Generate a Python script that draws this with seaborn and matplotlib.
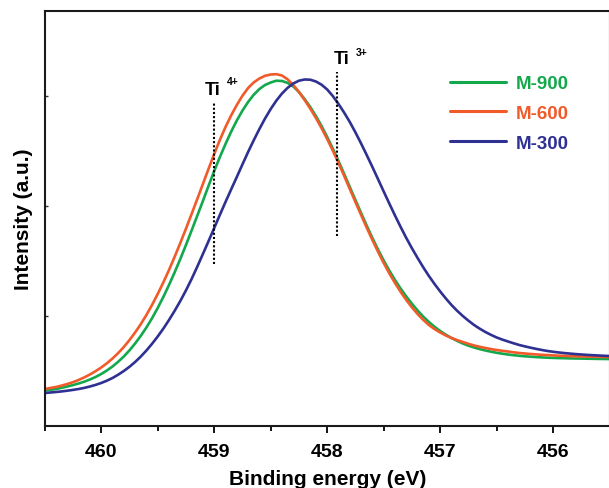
import matplotlib
matplotlib.use("Agg")
import matplotlib.pyplot as plt
import seaborn as sns
import pandas as pd
from matplotlib.ticker import MultipleLocator, NullFormatter

energy = [460.5, 460.45, 460.4, 460.35, 460.3, 460.25, 460.2, 460.15, 460.1, 460.05,
          460.0, 459.95, 459.9, 459.85, 459.8, 459.75, 459.7, 459.65, 459.6, 459.55,
          459.5, 459.45, 459.4, 459.35, 459.3, 459.25, 459.2, 459.15, 459.1, 459.05,
          459.0, 458.95, 458.9, 458.85, 458.8, 458.75, 458.7, 458.65, 458.6, 458.55,
          458.5, 458.45, 458.4, 458.35, 458.3, 458.25, 458.2, 458.15, 458.1, 458.05,
          458.0, 457.95, 457.9, 457.85, 457.8, 457.75, 457.7, 457.65, 457.6, 457.55,
          457.5, 457.45, 457.4, 457.35, 457.3, 457.25, 457.2, 457.15, 457.1, 457.05,
          457.0, 456.95, 456.9, 456.85, 456.8, 456.75, 456.7, 456.65, 456.6, 456.55,
          456.5, 456.45, 456.4, 456.35, 456.3, 456.25, 456.2, 456.15, 456.1, 456.05,
          456.0, 455.95, 455.9, 455.85, 455.8, 455.75, 455.7, 455.65, 455.6, 455.55,
          455.5]

m900 = [35.5, 36.2, 37, 38.2, 39.5, 40.9, 42.5, 44.3, 46.5, 49.0,
        52, 55.5, 59.5, 64.2, 69.5, 75.6, 82.5, 90.1, 98.5, 107.8,
        118, 129.1, 141, 153.7, 167, 181.0, 195.5, 210.2, 225, 240.2,
        255, 268.9, 282, 294.3, 305.5, 315.4, 324, 331.3, 337, 341.0,
        343.5, 345.3, 345, 343.1, 339.5, 334.0, 327, 319.0, 310, 299.9,
        289, 277.3, 265, 252.1, 239, 225.9, 213, 200.3, 188, 176.4,
        165.5, 155.4, 146, 137.4, 129.5, 122.2, 115.5, 109.4, 104, 99.2,
        95, 91.3, 88, 85.1, 82.5, 80.3, 78.5, 76.9, 75.5, 74.3,
        73.2, 72.3, 71.5, 70.8, 70.2, 69.7, 69.3, 68.9, 68.6, 68.3,
        68.1, 67.9, 67.8, 67.6, 67.5, 67.4, 67.3, 67.2, 67.1, 67.0,
        67]

m600 = [37, 38, 39, 40.4, 42, 43.8, 46, 48.6, 51.5, 54.8,
        58.5, 62.7, 67.5, 72.9, 79, 85.9, 93.5, 101.8, 111, 121.1,
        132, 143.6, 156, 169.2, 183, 197.3, 212, 226.9, 242, 257.2,
        272, 286, 299, 310.6, 321, 330.3, 338, 343.6, 347.5, 350.2,
        351.5, 351.8, 350.5, 346.6, 341, 334, 326, 317.4, 308, 297.9,
        287, 275.3, 263, 250.1, 237, 223.9, 211, 198.3, 186, 174.2,
        163, 152.6, 143, 134.1, 126, 118.6, 112, 106.1, 101, 96.9,
        93.5, 90.5, 88, 85.9, 84, 82.2, 80.5, 79.2, 78, 76.9,
        76, 75.2, 74.5, 73.7, 73, 72.5, 72, 71.6, 71.2, 70.9,
        70.6, 70.3, 70.1, 69.9, 69.7, 69.5, 69.4, 69.3, 69.2, 69.1,
        69]

m300 = [33, 33.5, 34, 34.6, 35.3, 36.1, 37, 38.1, 39.5, 41.1,
        43, 45.3, 48, 51.3, 55, 59.2, 64, 69.4, 75.5, 82.2,
        89.5, 97.4, 106, 115.2, 125, 135.6, 147, 159.3, 172, 184.9,
        198, 211.1, 224, 236.6, 249, 261.6, 274, 285.8, 297, 307.5,
        317, 325.4, 332.5, 338.2, 342.5, 345.3, 346.5, 346.3, 344.5, 341.3,
        336.5, 329.9, 322, 313.4, 304, 293.6, 282.5, 270.9, 259, 246.8,
        234.5, 222.4, 210.5, 199.0, 188, 177.7, 168, 158.7, 150, 142.0,
        134.5, 127.5, 121, 115.2, 110, 105.3, 101, 97.3, 94, 91.1,
        88.5, 86.4, 84.5, 82.7, 81, 79.6, 78.3, 77.1, 76, 75.0,
        74.2, 73.5, 72.9, 72.4, 71.9, 71.5, 71.1, 70.8, 70.5, 70.2,
        70]

series_names = ["M-900", "M-600", "M-300"]
colors = {"M-900": "#14A84D", "M-600": "#F15A29", "M-300": "#2E3192"}

ti4_x, ti4_y = 459.0, (162, 324)
ti3_x, ti3_y = 457.91, (190, 354)

rows = []
for name, vals in zip(series_names, [m900, m600, m300]):
    for e, v in zip(energy, vals):
        rows.append({"energy": e, "intensity": v, "sample": name})
df = pd.DataFrame(rows)

sns.set_style("ticks")
plt.rcParams["font.family"] = ["Liberation Sans", "DejaVu Sans"]
plt.rcParams["font.weight"] = "bold"
plt.rcParams["text.color"] = "black"
plt.rcParams["axes.labelcolor"] = "black"
plt.rcParams["xtick.color"] = "black"
plt.rcParams["ytick.color"] = "black"

fig = plt.figure(figsize=(6.09, 4.89), dpi=100)
ax = fig.add_axes([44.7 / 609, 62 / 489, 565 / 609, 415.5 / 489])

sns.lineplot(data=df, x="energy", y="intensity", hue="sample",
             hue_order=series_names, palette=colors, estimator=None,
             linewidth=1.9, ax=ax)

ax.set_xlim(460.5, 455.5)
ax.set_ylim(0, 415.5)

ax.xaxis.set_major_locator(MultipleLocator(1))
ax.xaxis.set_minor_locator(MultipleLocator(0.5))
ax.tick_params(axis="x", which="major", direction="out", length=5, width=1.3,
               labelsize=14, pad=7, colors="black")
ax.tick_params(axis="x", which="minor", direction="out", length=3.5, width=1.3,
               colors="black")
ax.set_yticks([110, 220, 330])
ax.yaxis.set_major_formatter(NullFormatter())
ax.tick_params(axis="y", which="major", direction="in", length=2.5, width=1.0,
               colors="#333333")
for lab in ax.get_xticklabels():
    lab.set_fontweight("bold")

for s in ["left", "bottom", "top", "right"]:
    ax.spines[s].set_linewidth(1.5)
    ax.spines[s].set_color("#1a1a1a")

ax.set_xlabel("Binding energy (eV)", fontsize=15, fontweight="bold", labelpad=7,
              color="black")
ax.set_ylabel("Intensity (a.u.)", fontsize=15, fontweight="bold", labelpad=5,
              color="black")

ax.plot([ti4_x, ti4_x], list(ti4_y), color="black", linestyle=(0, (1, 1)), linewidth=1.5)
ax.plot([ti3_x, ti3_x], list(ti3_y), color="black", linestyle=(0, (1, 1)), linewidth=1.5)

ax.text(459.08, 332, "Ti", fontsize=13, fontweight="bold", ha="left", va="baseline")
ax.text(458.89, 342, "4+", fontsize=7.5, fontweight="bold", ha="left", va="baseline")
ax.text(457.94, 363, "Ti", fontsize=13, fontweight="bold", ha="left", va="baseline")
ax.text(457.75, 371, "3+", fontsize=7.5, fontweight="bold", ha="left", va="baseline")

handles, labels = ax.get_legend_handles_labels()
leg = ax.legend(handles, labels, loc="upper left",
                bbox_to_anchor=((450 - 44.7) / 565, (427 - 76) / 415.5),
                frameon=False, handlelength=3.0,
                handletextpad=0.5, labelspacing=0.68, borderpad=0,
                borderaxespad=0, labelcolor="linecolor",
                prop={"weight": "bold", "size": 13.5})
for line in leg.get_lines():
    line.set_linewidth(2.2)

fig.savefig("out.png", dpi=100)
